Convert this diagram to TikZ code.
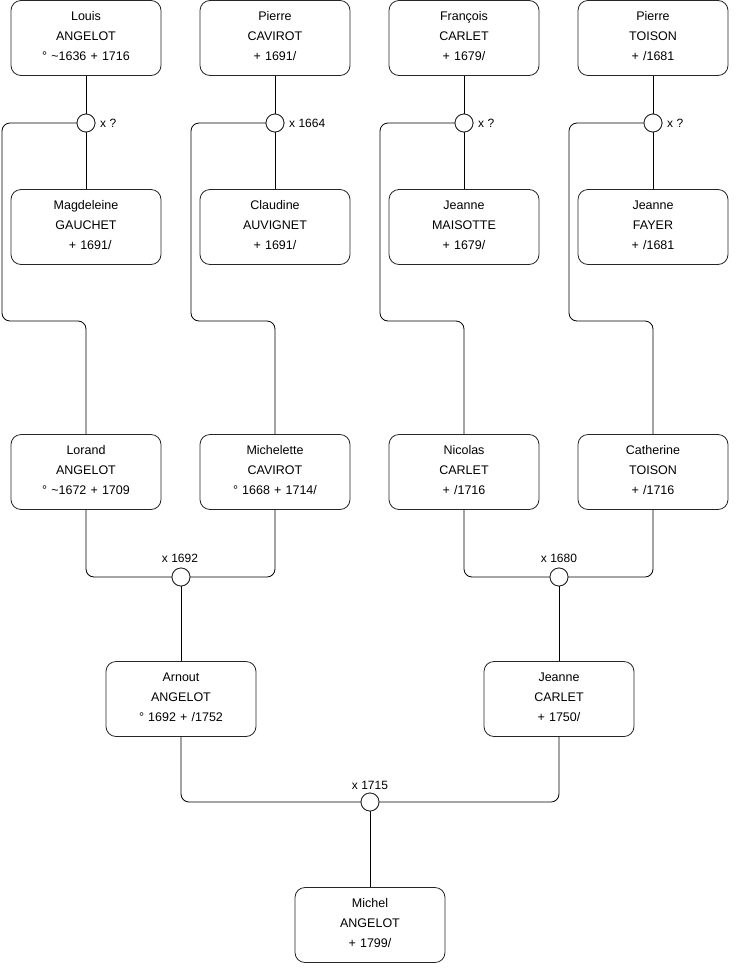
\documentclass[tikz,border=0pt]{standalone}
\usepackage{fontspec}
\setmainfont{Liberation Sans}
\begin{document}
\begin{tikzpicture}[x=1pt,y=-1pt]
\tikzset{
  person/.style={draw=black!85, line width=0.8pt, rounded corners=10pt, minimum width=150pt, minimum height=75pt, align=center, text width=146pt, inner sep=0pt, font=\fontsize{12.5}{20}\selectfont, execute at end node={\par\vspace*{4pt}}},
  union/.style={circle, draw=black!85, line width=0.8pt, minimum size=18pt, inner sep=0pt, fill=white},
  link/.style={draw=black, line width=0.8pt, rounded corners=8pt},
  lbl/.style={font=\fontsize{12}{14}\selectfont, inner sep=0pt}
}
\useasboundingbox (0,0) rectangle (740,975);
% top row
\node[person] (louis) at (86,38) {Louis\\ANGELOT\\° \textasciitilde1636 + 1716};
\node[person] (pierreC) at (275,38) {Pierre\\CAVIROT\\+ 1691/};
\node[person] (francois) at (464,38) {François\\CARLET\\+ 1679/};
\node[person] (pierreT) at (653,38) {Pierre\\TOISON\\+ /1681};
% wives
\node[person] (magd) at (86,227) {Magdeleine\\GAUCHET\\\ \ + 1691/};
\node[person] (claud) at (275,227) {Claudine\\AUVIGNET\\+ 1691/};
\node[person] (jeanneM) at (464,227) {Jeanne\\MAISOTTE\\+ 1679/};
\node[person] (jeanneF) at (653,227) {Jeanne\\FAYER\\+ /1681};
% children row
\node[person] (lorand) at (86,472) {Lorand\\ANGELOT\\° \textasciitilde1672 + 1709};
\node[person] (michelette) at (275,472) {Michelette\\CAVIROT\\° 1668 + 1714/};
\node[person] (nicolas) at (464,472) {Nicolas\\CARLET\\+ /1716};
\node[person] (catherine) at (653,472) {Catherine\\TOISON\\+ /1716};
% next generation
\node[person] (arnout) at (181,699) {Arnout\\ANGELOT\\° 1692 + /1752};
\node[person] (jeanneC) at (559,699) {Jeanne\\CARLET\\+ 1750/};
\node[person] (michel) at (370,925) {Michel\\ANGELOT\\+ 1799/};
% unions
\node[union] (u1) at (86,123) {};
\node[union] (u2) at (275,123) {};
\node[union] (u3) at (464,123) {};
\node[union] (u4) at (653,123) {};
\node[union] (u5) at (181,577) {};
\node[union] (u6) at (559,577) {};
\node[union] (u7) at (370,802) {};
% labels
\node[lbl, anchor=west] (l1) at (100,123) {x ?};
\node[lbl, anchor=west] (l2) at (289,123) {x 1664};
\node[lbl, anchor=west] (l3) at (478,123) {x ?};
\node[lbl, anchor=west] (l4) at (667,123) {x ?};
\node[lbl] (l5) at (180,558) {x 1692};
\node[lbl] (l6) at (559,558) {x 1680};
\node[lbl] (l7) at (370,785) {x 1715};
% bend coordinates
\coordinate (a1) at (2,123);  \coordinate (b1) at (2,321);  \coordinate (c1) at (86,321);
\coordinate (a2) at (191,123); \coordinate (b2) at (191,321); \coordinate (c2) at (275,321);
\coordinate (a3) at (380,123); \coordinate (b3) at (380,321); \coordinate (c3) at (464,321);
\coordinate (a4) at (569,123); \coordinate (b4) at (569,321); \coordinate (c4) at (653,321);
% connectors top
\foreach \h/\u/\w in {louis/u1/magd, pierreC/u2/claud, francois/u3/jeanneM, pierreT/u4/jeanneF}{
  \draw[link] (\h.south) -- (\u.north);
  \draw[link] (\u.south) -- (\w.north);
}
\draw[link] (u1.west) -- (a1) -- (b1) -- (c1) -- (lorand.north);
\draw[link] (u2.west) -- (a2) -- (b2) -- (c2) -- (michelette.north);
\draw[link] (u3.west) -- (a3) -- (b3) -- (c3) -- (nicolas.north);
\draw[link] (u4.west) -- (a4) -- (b4) -- (c4) -- (catherine.north);
% lower
\draw[link] (lorand.south) |- (u5.west);
\draw[link] (michelette.south) |- (u5.east);
\draw[link] (u5.south) -- (arnout.north);
\draw[link] (nicolas.south) |- (u6.west);
\draw[link] (catherine.south) |- (u6.east);
\draw[link] (u6.south) -- (jeanneC.north);
\draw[link] (arnout.south) |- (u7.west);
\draw[link] (jeanneC.south) |- (u7.east);
\draw[link] (u7.south) -- (michel.north);
% redraw unions on top
\foreach \u in {u1,u2,u3,u4,u5,u6,u7}{\node[union] at (\u) {};}
\end{tikzpicture}
\end{document}
